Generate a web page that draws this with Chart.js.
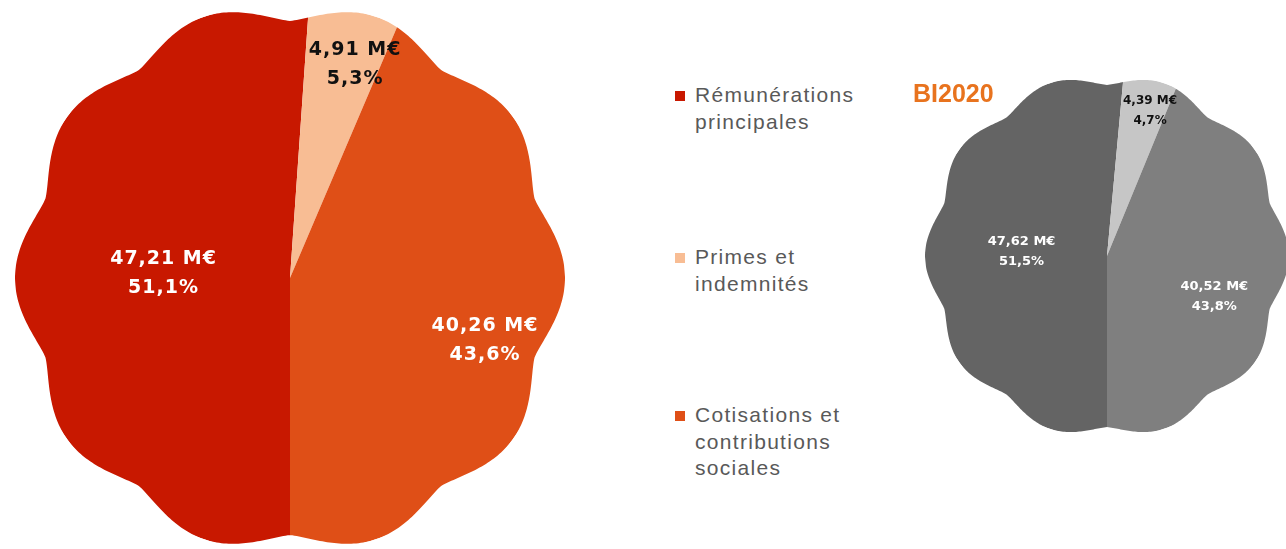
<!DOCTYPE html>
<html>
<head>
<meta charset="utf-8">
<script src="https://cdn.jsdelivr.net/npm/chart.js@4"></script>
<style>
  html, body { margin: 0; padding: 0; background: #fff; overflow: hidden; }
  #page { position: relative; width: 1286px; height: 549px; overflow: hidden; }
  canvas { position: absolute; }
  #legend { position: absolute; left: 675px; top: 0; width: 180px;
    font-family: "Liberation Sans", Arial, sans-serif; font-size: 21px; color: #595959; letter-spacing: 1.3px; }
  #legend .item { position: absolute; left: 0; width: 180px; }
  #legend .sq { position: absolute; left: 0; width: 10px; height: 10px; }
  #legend .txt { position: absolute; left: 20px; width: 170px; line-height: 26.5px; }
  #title { position: absolute; left: 913px; top: 80px; font: bold 25px "Liberation Sans", Arial, sans-serif;
    color: #E8731E; line-height: 26px; }
</style>
</head>
<body>
<div id="page">
  <canvas id="pieMain" width="550" height="550" style="left:15px;top:3px;"></canvas>
  <canvas id="pieBI" width="364" height="364" style="left:925px;top:74px;"></canvas>
  <div id="legend"></div>
  <div id="title">BI2020</div>
</div>
<script>
var categories = ["Rémunérations principales", "Primes et indemnités", "Cotisations et contributions sociales"];
var valuesMain = [47.21, 4.91, 40.26];   // M€
var valuesBI2020 = [47.62, 4.39, 40.52]; // M€
var colorsMain = ["#C81800", "#F8BD94", "#DF4F17"];
var colorsBI = ["#646464", "#C6C6C6", "#7F7F7F"];

function fmtComma(n, d) {
    return n.toFixed(d).replace(".", ",");
}

// scalloped outline + labels inside the slices
var scallopPlugin = {
    id: "scallop",
    beforeDatasetsDraw: function(chart) {
        var o = chart.options.plugins.scallop;
        var arc = chart.getDatasetMeta(0).data[0];
        var cx = arc.x, cy = arc.y, R = arc.outerRadius;
        var ctx = chart.ctx;
        ctx.save();
        ctx.beginPath();
        for (var i = 0; i <= 720; i++) {
            var t = i / 720 * Math.PI * 2;
            var s = Math.pow(Math.abs(Math.sin(t * o.lobes / 2)), o.power);
            var r = R * (o.inner + (1 - o.inner) * s);
            var x = cx + r * Math.sin(t);
            var y = cy - r * Math.cos(t);
            if (i == 0) ctx.moveTo(x, y); else ctx.lineTo(x, y);
        }
        ctx.closePath();
        ctx.clip();
    },
    afterDatasetsDraw: function(chart) {
        var o = chart.options.plugins.scallop;
        var ctx = chart.ctx;
        ctx.restore();
        var values = chart.data.datasets[0].data;
        var total = values.reduce(function(a, b) { return a + b; }, 0);
        ctx.save();
        ctx.textAlign = "center";
        ctx.textBaseline = "middle";
        ctx.letterSpacing = o.spacing;
        chart.getDatasetMeta(0).data.forEach(function(el, i) {
            var a = el.startAngle + o.angleFrac[i] * (el.endAngle - el.startAngle);
            var x = el.x + Math.cos(a) * o.radiusFrac[i] * el.outerRadius;
            var y = el.y + Math.sin(a) * o.radiusFrac[i] * el.outerRadius;
            ctx.fillStyle = o.textColors[i];
            ctx.font = "bold " + o.fontSizes[i] + "px 'DejaVu Sans', sans-serif";
            ctx.fillText(fmtComma(values[i], 2) + " M€", x, y - o.lineGap / 2);
            ctx.fillText(fmtComma(values[i] / total * 100, 1) + "%", x, y + o.lineGap / 2);
        });
        ctx.restore();
    }
};

function makePie(id, values, colors, labelOpts) {
    var config = {
        type: "pie",
        data: {
            labels: categories,
            datasets: [{
                data: values,
                backgroundColor: colors,
                borderWidth: 0
            }]
        },
        options: {
            responsive: false,
            animation: false,
            rotation: 180,
            layout: { padding: 0 },
            plugins: {
                legend: { display: false },
                tooltip: { enabled: false },
                scallop: labelOpts
            }
        },
        plugins: [scallopPlugin]
    };
    return new Chart(document.getElementById(id), config);
}

makePie("pieMain", valuesMain, colorsMain, {
    lobes: 10, inner: 0.935, power: 1.4,
    angleFrac: [0.5, 0.68, 0.54],
    radiusFrac: [0.46, 0.81, 0.745],
    textColors: ["#ffffff", "#111111", "#ffffff"],
    fontSizes: [19, 19, 19],
    spacing: "1px",
    lineGap: 29
});

makePie("pieBI", valuesBI2020, colorsBI, {
    lobes: 10, inner: 0.94, power: 1.4,
    angleFrac: [0.5, 0.66, 0.56],
    radiusFrac: [0.47, 0.83, 0.63],
    textColors: ["#ffffff", "#111111", "#ffffff"],
    fontSizes: [13, 12, 13],
    spacing: "0px",
    lineGap: 20
});

// legend built from the categories / colours
var legendTops = [82, 244, 402];
var legend = document.getElementById("legend");
categories.forEach(function(c, i) {
    var item = document.createElement("div");
    item.className = "item";
    item.style.top = legendTops[i] + "px";
    item.innerHTML = '<div class="sq" style="top:9px;background:' + colorsMain[i] + '"></div>' +
        '<div class="txt">' + c + '</div>';
    legend.appendChild(item);
});
</script>
</body>
</html>
